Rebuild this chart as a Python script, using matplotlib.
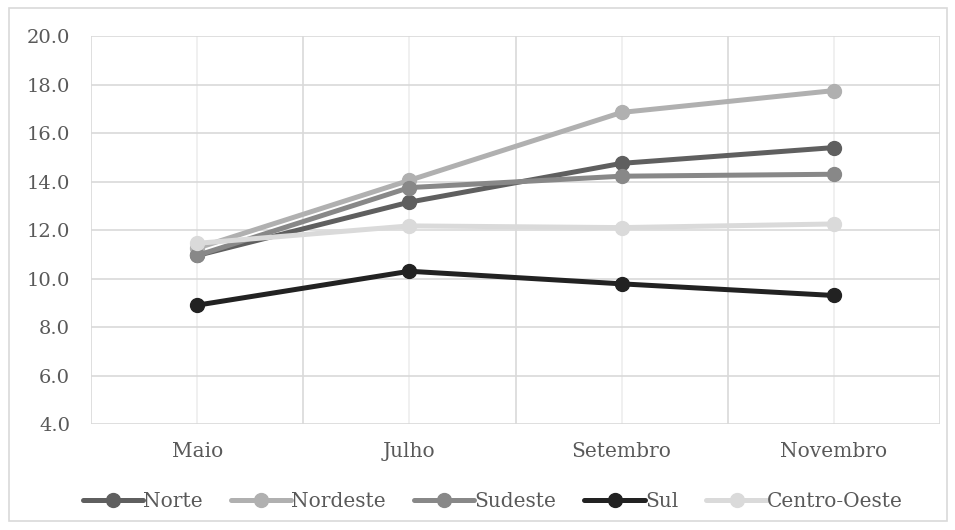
import matplotlib.pyplot as plt
from matplotlib.patches import Rectangle

meses = ['Maio', 'Julho', 'Setembro', 'Novembro']

norte = [10.95, 13.15, 14.75, 15.4]
nordeste = [11.25, 14.05, 16.85, 17.75]
sudeste = [10.95, 13.75, 14.22, 14.3]
sul = [8.9, 10.3, 9.78, 9.3]
centro_oeste = [11.45, 12.17, 12.1, 12.25]

series = [
    ('Norte', norte, '#5f5f5f'),
    ('Nordeste', nordeste, '#b0b0b0'),
    ('Sudeste', sudeste, '#888888'),
    ('Sul', sul, '#222222'),
    ('Centro-Oeste', centro_oeste, '#dadada'),
]

plt.rcParams['font.family'] = ['DejaVu Serif']

fig = plt.figure(figsize=(9.55, 5.3), dpi=100)
ax = fig.add_axes([0.0953, 0.2, 0.889, 0.732])

x = range(len(meses))
for nome, vals, cor in series:
    ax.plot(x, vals, color=cor, lw=3.6, marker='o', ms=10, label=nome,
            solid_capstyle='round', zorder=3)

ax.set_xlim(-0.5, len(meses) - 0.5)
ax.set_ylim(4, 20)
ax.set_yticks([4 + 2 * i for i in range(9)])
ax.set_yticklabels(['%.1f' % (4 + 2 * i) for i in range(9)])
ax.set_xticks(list(x))
ax.set_xticklabels(meses)
ax.set_xticks([i - 0.5 for i in range(len(meses) + 1)], minor=True)

ax.grid(True, which='major', axis='y', color='#d9d9d9', lw=1.2)
ax.grid(True, which='minor', axis='x', color='#d9d9d9', lw=1.2)
ax.grid(True, which='major', axis='x', color='#eeeeee', lw=1.2)
ax.tick_params(which='both', length=0, colors='#595959')
ax.tick_params(axis='y', pad=15, labelsize=14)
ax.tick_params(axis='x', pad=13, labelsize=14.5)
for s in ax.spines.values():
    s.set_visible(False)

ax.legend(loc='center', bbox_to_anchor=(0.473, -0.2), ncol=5, frameon=False,
          fontsize=14.5, handlelength=3.0, handletextpad=0.0, columnspacing=1.4,
          labelcolor='#595959')

fig.patches.append(Rectangle((0.009, 0.017), 0.983, 0.968, transform=fig.transFigure,
                             fill=False, edgecolor='#d9d9d9', lw=1.2))

fig.savefig('out.png', dpi=100)
